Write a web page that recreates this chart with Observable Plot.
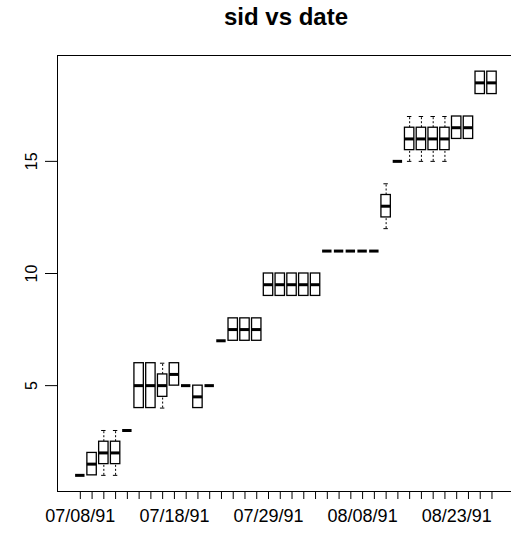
<!DOCTYPE html>
<html>
<head>
<meta charset="utf-8">
<script src="https://cdn.jsdelivr.net/npm/d3@7"></script>
<script src="https://cdn.jsdelivr.net/npm/@observablehq/plot@0.6"></script>
<style>
  html, body { margin: 0; padding: 0; background: #fff; }
  #title { position: relative; height: 40px; width: 511px; }
  #title span { position: absolute; left: 57px; width: 458px; top: 3px; text-align: center;
    font: bold 24px "Liberation Sans", Arial, sans-serif; color: #000; }
</style>
</head>
<body>
<div id="title"><span>sid vs date</span></div>
<div id="chart"></div>
<script>
// Categories (dates, factor levels in order)
const dates = [
  "07/08/91","07/09/91","07/10/91","07/11/91","07/12/91","07/15/91","07/16/91","07/17/91",
  "07/18/91","07/19/91","07/22/91","07/23/91","07/24/91","07/25/91","07/26/91","07/27/91",
  "07/29/91","07/30/91","07/31/91","08/01/91","08/02/91","08/05/91","08/06/91","08/07/91",
  "08/08/91","08/09/91","08/12/91","08/13/91","08/14/91","08/15/91","08/19/91","08/21/91",
  "08/23/91","08/26/91","08/27/91","08/28/91"
];
// Box statistics per date
const whiskerLow  = [1, 1,   1,   1,   3, 4, 4, 4,   5,   5, 4,   5, 7, 7,   7,   7,   9,   9,   9,   9,   9,   11, 11, 11, 11, 11, 12,   15, 15,   15,   15,   15,   16,   16,   18,   18];
const q1          = [1, 1,   1.5, 1.5, 3, 4, 4, 4.5, 5,   5, 4,   5, 7, 7,   7,   7,   9,   9,   9,   9,   9,   11, 11, 11, 11, 11, 12.5, 15, 15.5, 15.5, 15.5, 15.5, 16,   16,   18,   18];
const median      = [1, 1.5, 2,   2,   3, 5, 5, 5,   5.5, 5, 4.5, 5, 7, 7.5, 7.5, 7.5, 9.5, 9.5, 9.5, 9.5, 9.5, 11, 11, 11, 11, 11, 13,   15, 16,   16,   16,   16,   16.5, 16.5, 18.5, 18.5];
const q3          = [1, 2,   2.5, 2.5, 3, 6, 6, 5.5, 6,   5, 5,   5, 7, 8,   8,   8,   10,  10,  10,  10,  10,  11, 11, 11, 11, 11, 13.5, 15, 16.5, 16.5, 16.5, 16.5, 17,   17,   19,   19];
const whiskerHigh = [1, 2,   3,   3,   3, 6, 6, 6,   6,   5, 5,   5, 7, 8,   8,   8,   10,  10,  10,  10,  10,  11, 11, 11, 11, 11, 14,   15, 17,   17,   17,   17,   17,   17,   19,   19];
// Tick labels shown on the x axis
const shownLabels = ["07/08/91","07/18/91","07/29/91","08/08/91","08/23/91"];
const yTicks = [5, 10, 15];

const rows = dates.map((d, i) => ({
  date: d, lo: whiskerLow[i], q1: q1[i], med: median[i], q3: q3[i], hi: whiskerHigh[i]
}));
const boxes = rows.filter(r => r.q3 > r.q1);
const lowW = rows.filter(r => r.lo < r.q1);
const highW = rows.filter(r => r.hi > r.q3);

const font = '"Liberation Sans", Arial, sans-serif';
const chart = Plot.plot({
  width: 511,
  height: 493,
  marginLeft: 57,
  marginRight: 0,
  marginTop: 15,
  marginBottom: 42,
  style: { fontFamily: font, fontSize: "18px", color: "#000", background: "#fff", overflow: "visible" },
  x: { type: "band", domain: dates, range: [57, 514.3], paddingInner: 0.2, paddingOuter: 1.54, align: 0.5, round: false, label: null },
  y: { domain: [0.28, 19.72], label: null },
  marks: [
    Plot.frame({ anchor: "left", stroke: "#000" }),
    Plot.frame({ anchor: "top", stroke: "#000" }),
    Plot.frame({ anchor: "bottom", stroke: "#000" }),
    // whiskers (dashed)
    Plot.ruleX(lowW, { x: "date", y1: "lo", y2: "q1", stroke: "#000", strokeWidth: 1, strokeDasharray: "2,2" }),
    Plot.ruleX(highW, { x: "date", y1: "q3", y2: "hi", stroke: "#000", strokeWidth: 1, strokeDasharray: "2,2" }),
    // staples
    Plot.tickY(lowW, { x: "date", y: "lo", stroke: "#000", strokeWidth: 1, insetLeft: 2.5, insetRight: 2.5 }),
    Plot.tickY(highW, { x: "date", y: "hi", stroke: "#000", strokeWidth: 1, insetLeft: 2.5, insetRight: 2.5 }),
    // boxes
    Plot.rectY(boxes, { x: "date", y1: "q1", y2: "q3", fill: "#fff", stroke: "#000", strokeWidth: 1.3 }),
    // medians
    Plot.tickY(rows, { x: "date", y: "med", stroke: "#000", strokeWidth: 3 }),
    Plot.axisX({ tickSize: 8, tickPadding: 10, tickFormat: d => shownLabels.includes(d) ? d : "", fontSize: 18, label: null }),
    Plot.axisY({ ticks: yTicks, tickSize: 12, tickPadding: 9, tickRotate: -90, fontSize: 16, textAnchor: "middle", label: null })
  ]
});
document.getElementById("chart").appendChild(chart);
</script>
</body>
</html>
